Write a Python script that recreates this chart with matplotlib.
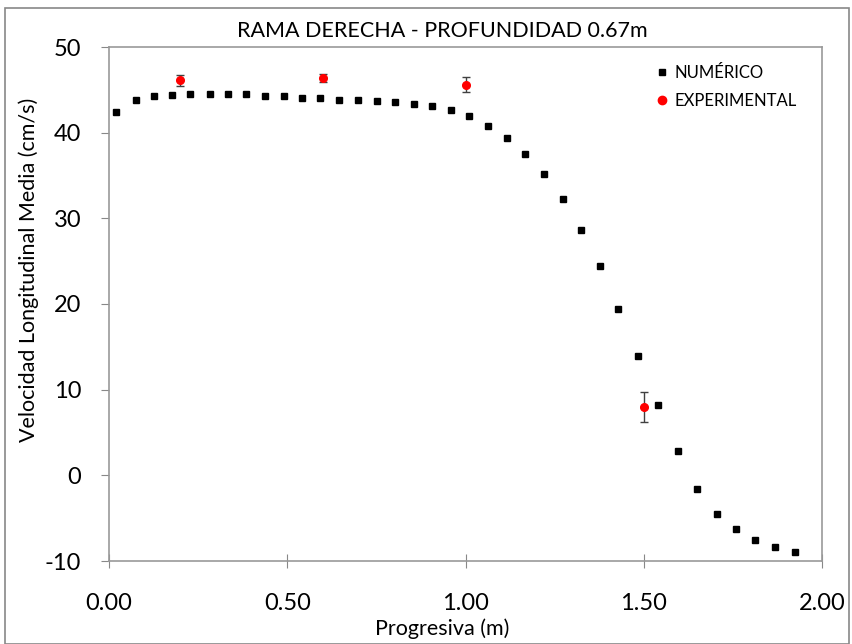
import matplotlib.pyplot as plt
from matplotlib.patches import Rectangle
from matplotlib.lines import Line2D

plt.rcParams['font.family'] = ['Lato', 'DejaVu Sans']
plt.rcParams['axes.unicode_minus'] = False

# datos numericos
x_num = [0.020, 0.075, 0.126, 0.177, 0.228, 0.282, 0.334, 0.385, 0.437, 0.491,
         0.542, 0.593, 0.644, 0.699, 0.751, 0.801, 0.856, 0.907, 0.958, 1.010,
         1.064, 1.116, 1.168, 1.219, 1.273, 1.325, 1.376, 1.429, 1.485, 1.541,
         1.595, 1.650, 1.706, 1.758, 1.813, 1.868, 1.923]
v_num = [42.4, 43.8, 44.3, 44.4, 44.5, 44.5, 44.5, 44.5, 44.3, 44.3,
         44.1, 44.0, 43.8, 43.8, 43.7, 43.6, 43.4, 43.1, 42.6, 41.9,
         40.8, 39.4, 37.5, 35.2, 32.2, 28.6, 24.4, 19.4, 13.9, 8.2,
         2.8, -1.6, -4.5, -6.3, -7.6, -8.4, -8.9]

# datos experimentales
x_exp = [0.2, 0.6, 1.0, 1.5]
v_exp = [46.1, 46.4, 45.6, 8.0]
err_exp = [0.65, 0.5, 0.85, 1.75]

xticks = [0.0, 0.5, 1.0, 1.5, 2.0]
yticks = [-10, 0, 10, 20, 30, 40, 50]

fig = plt.figure(figsize=(8.52, 6.44), dpi=100)
ax = fig.add_axes([109/852, 1 - 561/644, 713/852, 514/644])

ax.plot(x_num, v_num, 's', color='black', markersize=5, zorder=3)
ax.errorbar(x_exp, v_exp, yerr=err_exp, fmt='o', color='red', markersize=5.5,
            ecolor='#404040', elinewidth=1, capsize=3, capthick=1, zorder=4)

ax.set_xlim(0, 2)
ax.set_ylim(-10, 50)
ax.set_xticks(xticks)
ax.set_xticklabels([f'{t:.2f}' for t in xticks])
ax.set_yticks(yticks)
ax.tick_params(axis='both', labelsize=17, colors='#888888', labelcolor='black')
ax.tick_params(axis='x', direction='inout', length=10, pad=18)
ax.tick_params(axis='y', direction='out', length=6, pad=14)
for s in ax.spines.values():
    s.set_color('#999999')
    s.set_linewidth(1.2)

ax.set_title('RAMA DERECHA - PROFUNDIDAD 0.67m', fontsize=15.5, pad=7, x=0.468)
ax.set_xlabel('Progresiva (m)', fontsize=15.5)
ax.xaxis.set_label_coords(0.467, -0.112)
ax.set_ylabel('Velocidad Longitudinal Media (cm/s)', fontsize=15.5)
ax.yaxis.set_label_coords(-0.098, 0.566)

h = [Line2D([], [], ls='none', marker='s', color='black', markersize=5),
     Line2D([], [], ls='none', marker='o', color='red', markersize=6)]
l = ['NUMÉRICO', 'EXPERIMENTAL']
ax.legend(h, l, loc='upper right', bbox_to_anchor=(0.985, 0.995), frameon=False,
          fontsize=12, handletextpad=0.2, handlelength=1.0, labelspacing=0.75)

fig.patches.append(Rectangle((5/852, 0.0), 844/852, 1 - 8/644, transform=fig.transFigure,
                             fill=False, edgecolor='#888888', linewidth=1.2))

fig.savefig('out.png', dpi=100)
